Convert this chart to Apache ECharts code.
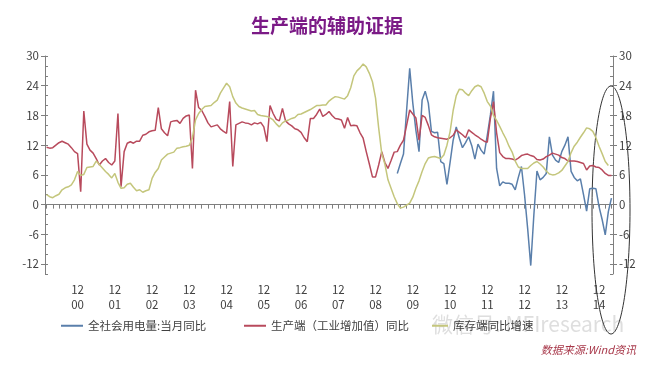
<!DOCTYPE html>
<html>
<head>
<meta charset="utf-8">
<script src="https://cdn.jsdelivr.net/npm/echarts@6/dist/echarts.min.js"></script>
<style>
html,body{margin:0;padding:0;background:#fff;}
#c{width:654px;height:373px;}
</style>
</head>
<body>
<div id="c"></div>
<script>
// ---- data ----
var startYear = 2000, startMonth = 2;   // first category: Feb 2000
var monthCount = 183;                   // through Apr 2015
var yTickLabels = [-12, -6, 0, 6, 12, 18, 24, 30];
var seriesNames = ['全社会用电量:当月同比', '生产端（工业增加值）同比', '库存端同比增速'];

// 生产端（工业增加值）同比, from Feb 2000
var industrial = [
11.6, 11.4, 11.5, 12.0, 12.5, 12.8, 12.5, 12.2, 11.5, 10.7,
10.3, 2.6, 18.9, 12.2, 11.0, 10.4, 9.3, 8.0, 8.8, 9.3,
8.5, 8.0, 8.8, 18.4, 3.6, 10.7, 12.4, 12.7, 12.4, 12.8,
12.8, 14.0, 14.2, 14.7, 14.9, 15.0, 19.6, 15.3, 14.5, 13.9,
16.7, 16.9, 17.0, 16.4, 17.4, 17.9, 18.1, 7.3, 23.1, 19.6,
19.0, 17.8, 16.5, 15.7, 15.9, 16.1, 15.3, 14.8, 14.4, 20.8,
7.7, 16.1, 16.4, 16.7, 16.5, 16.4, 16.1, 16.5, 16.3, 16.6,
15.7, 12.7, 20.0, 18.4, 17.2, 16.9, 19.4, 16.9, 16.3, 15.9,
15.3, 15.1, 14.6, 13.5, 12.7, 17.4, 17.4, 18.2, 19.3, 17.8,
18.2, 18.8, 18.0, 17.4, 17.3, 17.1, 15.4, 17.6, 15.9, 16.0,
15.9, 14.5, 13.4, 10.7, 8.2, 5.6, 5.6, 8.0, 10.7, 8.5,
7.3, 8.9, 10.6, 10.7, 12.0, 13.0, 16.0, 19.1, 18.3, 17.5,
13.0, 18.0, 17.6, 16.0, 14.1, 13.7, 13.5, 13.4, 13.3, 13.2,
13.5, 14.0, 15.1, 14.6, 14.1, 13.5, 15.1, 14.6, 14.1, 13.7,
13.2, 12.8, 12.6, 17.4, 20.8, 14.5, 10.5, 9.7, 9.3, 9.3,
9.2, 9.0, 9.4, 9.9, 10.1, 10.2, 9.9, 9.7, 9.1, 9.0,
9.2, 9.7, 10.0, 10.4, 10.2, 10.0, 9.5, 9.3, 8.8, 8.8,
8.8, 8.7, 8.5, 8.3, 7.0, 7.8, 7.9, 7.6, 7.5, 7.0,
6.3, 5.9, 5.9
];

// 库存端同比增速, from Feb 2000
var inventory = [
2.0, 1.6, 1.4, 1.8, 2.1, 3.0, 3.4, 3.6, 4.0, 5.0,
6.7, 5.9, 6.1, 7.5, 7.6, 7.7, 8.8, 8.1, 7.4, 6.7,
6.1, 5.4, 6.3, 4.5, 3.3, 3.4, 4.1, 4.3, 3.5, 2.8,
3.0, 2.5, 2.8, 3.0, 5.3, 6.5, 7.3, 9.0, 9.6, 10.2,
10.4, 10.6, 11.4, 11.5, 11.7, 11.8, 12.0, 13.5, 17.1, 18.4,
19.2, 19.8, 19.9, 20.0, 20.6, 21.1, 22.5, 23.5, 24.5, 23.8,
21.8, 20.5, 19.8, 19.5, 19.3, 19.1, 18.9, 19.0, 18.2, 18.0,
17.9, 17.8, 17.5, 17.1, 16.3, 15.7, 16.5, 16.9, 17.1, 17.4,
17.6, 18.2, 18.3, 18.6, 18.9, 19.2, 19.6, 20.0, 20.0, 20.1,
20.1, 20.9, 21.4, 21.8, 21.7, 21.5, 21.3, 22.0, 23.6, 26.0,
27.0, 27.6, 28.4, 27.8, 26.5, 24.8, 21.5, 15.5, 10.3, 8.2,
5.0, 3.3, 1.6, 0.2, -0.7, -0.5, -0.1, 0.3, 1.5, 3.3,
4.8, 6.7, 8.3, 9.4, 9.6, 9.7, 9.5, 9.3, 10.0, 12.0,
14.7, 19.0, 22.0, 23.3, 23.2, 22.5, 22.0, 23.0, 23.8, 24.1,
23.8, 22.5, 20.8, 19.9, 18.0, 17.0, 15.8, 14.5, 13.3, 11.8,
10.6, 8.8, 7.6, 7.3, 7.3, 7.3, 7.9, 8.4, 8.7, 8.2,
7.6, 6.8, 6.2, 6.0, 6.1, 6.4, 6.9, 7.8, 8.7, 10.5,
11.8, 12.6, 13.6, 14.5, 15.5, 15.3, 14.8, 13.5, 11.8, 10.3,
8.7, 7.9
];

// 全社会用电量:当月同比, starts Jul 2009 (category index 113)
var powerStartIndex = 113;
var power = [
6.3, 8.3, 10.2, 19.0, 27.5, 20.5, 15.0, 10.7, 21.1, 22.9,
20.5, 14.8, 14.5, 14.6, 8.7, 8.3, 4.1, 8.5, 13.0, 15.7,
13.4, 11.5, 12.5, 13.7, 11.9, 9.2, 12.2, 11.0, 10.2, 14.0,
18.1, 22.9, 7.3, 3.8, 4.6, 4.3, 4.3, 4.1, 3.0, 5.5,
7.7, 2.0, -4.8, -12.3, -2.1, 6.8, 5.0, 5.5, 6.3, 13.7,
10.0, 9.0, 8.5, 10.7, 12.0, 13.7, 6.7, 5.5, 4.8, 5.2,
2.0, -1.3, 3.2, 3.3, 3.2, -0.4, -3.0, -6.1, -1.4, 1.3
];

// ---- build ----
var categories = [];
for (var i = 0; i < monthCount; i++) {
  var t = (startMonth - 1) + i;
  var y = startYear + Math.floor(t / 12), m = (t % 12) + 1;
  categories.push(y + '/' + (m < 10 ? '0' + m : m));
}
function monthOf(v) { return parseInt(v.split('/')[1], 10); }
var powerData = [];
for (var j = 0; j < monthCount; j++) {
  var k = j - powerStartIndex;
  powerData.push(k >= 0 && k < power.length ? power[k] : null);
}

var axisColor = '#7f7f7f';
var labelColor = '#404040';
var fontFam = '"Noto Sans CJK SC", "Noto Sans", sans-serif';
var gridBox = { left: 45, right: 41, top: 56, bottom: 99, containLabel: false, outerBoundsMode: 'none' };

function mainY(pos) {
  return {
    type: 'value', gridIndex: 0, position: pos, min: -14, max: 30, interval: 2,
    axisLine: { show: true, lineStyle: { color: axisColor, width: 1 } },
    axisTick: { show: true, inside: true, length: 3, lineStyle: { color: axisColor } },
    axisLabel: {
      show: true, color: labelColor, fontSize: 11.5, margin: 6, fontFamily: fontFam,
      formatter: function (v) { return yTickLabels.indexOf(v) >= 0 ? String(v) : ''; }
    },
    splitLine: { show: false }
  };
}
function majorY(pos) {
  return {
    type: 'value', gridIndex: 1, position: pos, min: -14, max: 30,
    axisLine: { show: false },
    axisTick: { show: true, inside: false, length: 4, customValues: yTickLabels, lineStyle: { color: axisColor } },
    axisLabel: { show: false },
    splitLine: { show: false }
  };
}

var chart = echarts.init(document.getElementById('c'), null, { renderer: 'canvas' });
chart.setOption({
  backgroundColor: '#ffffff',
  animation: false,
  title: {
    text: '生产端的辅助证据',
    left: 322, top: 11, textAlign: 'center',
    textStyle: { color: '#7b1a86', fontSize: 19, fontWeight: 'bold', fontFamily: fontFam }
  },
  grid: [gridBox, Object.assign({}, gridBox)],
  xAxis: [{
    type: 'category', gridIndex: 0, data: categories, boundaryGap: true,
    axisLine: { show: true, lineStyle: { color: axisColor, width: 1 } },
    axisTick: {
      show: true, alignWithLabel: true, length: 4, lineStyle: { color: axisColor },
      interval: function (idx, val) { return monthOf(val) % 2 === 0; }
    },
    axisLabel: {
      color: labelColor, fontSize: 11.5, lineHeight: 15, margin: 8, fontFamily: fontFam,
      interval: function (idx, val) { return monthOf(val) === 12; },
      formatter: function (val) { return '12\n' + val.split('/')[0].slice(2); }
    },
    splitLine: { show: false }
  }, {
    type: 'category', gridIndex: 1, data: categories, show: false
  }],
  yAxis: [mainY('left'), mainY('right'), majorY('left'), majorY('right')],
  legend: [
    { data: [seriesNames[0]], left: 61, top: 320, padding: 0, itemWidth: 22, itemHeight: 2, icon: 'rect',
      textStyle: { color: labelColor, fontSize: 11.5, fontFamily: fontFam } },
    { data: [seriesNames[1]], left: 244, top: 320, padding: 0, itemWidth: 22, itemHeight: 2, icon: 'rect',
      textStyle: { color: labelColor, fontSize: 11.5, fontFamily: fontFam } },
    { data: [seriesNames[2]], left: 432, top: 320, padding: 0, itemWidth: 16, itemHeight: 2, icon: 'rect',
      textStyle: { color: labelColor, fontSize: 11.5, fontFamily: fontFam } }
  ],
  series: [
    { name: seriesNames[0], type: 'line', data: powerData, xAxisIndex: 0, yAxisIndex: 0, showSymbol: false, symbol: 'none',
      connectNulls: false, lineStyle: { color: '#5a7fab', width: 1.5 }, itemStyle: { color: '#5a7fab' } },
    { name: seriesNames[1], type: 'line', data: industrial, xAxisIndex: 0, yAxisIndex: 0, showSymbol: false, symbol: 'none',
      lineStyle: { color: '#b84a5c', width: 1.5 }, itemStyle: { color: '#b84a5c' } },
    { name: seriesNames[2], type: 'line', data: inventory, xAxisIndex: 0, yAxisIndex: 0, showSymbol: false, symbol: 'none',
      lineStyle: { color: '#c4c67c', width: 1.5 }, itemStyle: { color: '#c4c67c' } },
    { type: 'line', data: [], xAxisIndex: 1, yAxisIndex: 2, silent: true },
    { type: 'line', data: [], xAxisIndex: 1, yAxisIndex: 3, silent: true }
  ],
  graphic: [
    { type: 'text', right: 18, top: 344, style: { text: '数据来源:Wind资讯', fill: '#a8384a', font: 'italic 11px ' + fontFam } },
    { type: 'text', left: 432, top: 314, silent: true, style: { text: '微信号: MFIresearch', fill: 'rgba(160,160,160,0.35)', font: '21px ' + fontFam } },
    { type: 'ellipse', silent: true, shape: { cx: 611, cy: 210, rx: 19, ry: 124 },
      style: { fill: 'none', stroke: '#333333', lineWidth: 1 } }
  ]
});
</script>
</body>
</html>
